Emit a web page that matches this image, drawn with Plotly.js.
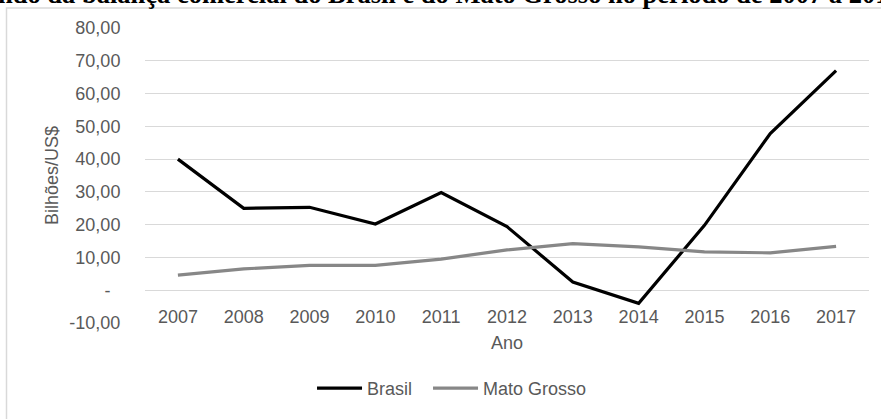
<!DOCTYPE html>
<html>
<head>
<meta charset="utf-8">
<script src="https://cdn.plot.ly/plotly-3.0.1.min.js"></script>
<style>html,body{margin:0;padding:0;background:#fff;}#chart{width:881px;height:419px;}</style>
</head>
<body>
<div id="chart"></div>
<script>
const years = ["2007","2008","2009","2010","2011","2012","2013","2014","2015","2016","2017"];
const brasil = [40.0, 25.0, 25.3, 20.2, 29.8, 19.4, 2.5, -4.0, 19.8, 47.8, 67.0];
const matoGrosso = [4.6, 6.5, 7.6, 7.6, 9.5, 12.3, 14.2, 13.2, 11.7, 11.4, 13.4];
const yTickVals = [-10, 0, 10, 20, 30, 40, 50, 60, 70, 80];
const yTickText = ["-10,00", "-\u00a0\u00a0", "10,00", "20,00", "30,00", "40,00", "50,00", "60,00", "70,00", "80,00"];
const titleText = "ndo da balança comercial do Brasil e do Mato Grosso no período de 2007 a 2017";

const yMin = -10, yMax = 80;
const tickFont = {family: "Liberation Sans, Arial, sans-serif", size: 18, color: "#595959"};

const traces = [
  {x: years, y: brasil, name: "Brasil", type: "scatter", mode: "lines",
   line: {color: "#000000", width: 3.2}, legend: "legend"},
  {x: years, y: matoGrosso, name: "Mato Grosso", type: "scatter", mode: "lines",
   line: {color: "#878787", width: 3.2}, legend: "legend2"}
];

const legendBase = {orientation: "h", xanchor: "left", y: -0.222, yanchor: "middle",
                    font: tickFont, bgcolor: "rgba(0,0,0,0)", itemwidth: 45};

const layout = {
  width: 881, height: 419,
  margin: {l: 145, r: 12, t: 28, b: 91},
  paper_bgcolor: "#ffffff", plot_bgcolor: "#ffffff",
  showlegend: true,
  legend: Object.assign({}, legendBase, {x: 0.2307}),
  legend2: Object.assign({}, legendBase, {x: 0.2307 + 116 / 724}),
  xaxis: {type: "category", range: [-0.5, 10.5], anchor: "free",
          position: (0 - yMin) / (yMax - yMin),
          showgrid: false, showline: false, zeroline: false,
          ticks: "outside", ticklen: 10, tickcolor: "rgba(0,0,0,0)",
          tickfont: tickFont,
          title: {text: "Ano", font: tickFont, standoff: 10}},
  yaxis: {range: [yMin, yMax], tickvals: yTickVals, ticktext: yTickText,
          showgrid: true, gridcolor: "#d9d9d9", gridwidth: 1,
          zeroline: false, showline: false,
          ticks: "outside", ticklen: 20, tickcolor: "rgba(0,0,0,0)",
          tickfont: tickFont,
          title: {text: "Bilhões/US$", font: tickFont, standoff: 6}},
  annotations: [
    {text: "<b>" + titleText + "</b>", xref: "paper", yref: "paper",
     x: (-4 - 145) / 724, xanchor: "left", y: (328.3 + 6.5) / 300, yanchor: "middle",
     showarrow: false, font: {family: "Liberation Serif, Times New Roman, serif", size: 26.5, color: "#000"}}
  ],
  shapes: [
    {type: "path", xref: "paper", yref: "paper",
     path: "M " + ((6.5 - 145) / 724) + "," + ((328.3 - 430) / 300) + " L " + ((6.5 - 145) / 724) + "," + ((328.3 - 8) / 300) + " L " + ((900 - 145) / 724) + "," + ((328.3 - 8) / 300),
     line: {color: "#d9d9d9", width: 1.5}}
  ]
};

Plotly.newPlot("chart", traces, layout, {displayModeBar: false, staticPlot: true});
</script>
</body>
</html>
